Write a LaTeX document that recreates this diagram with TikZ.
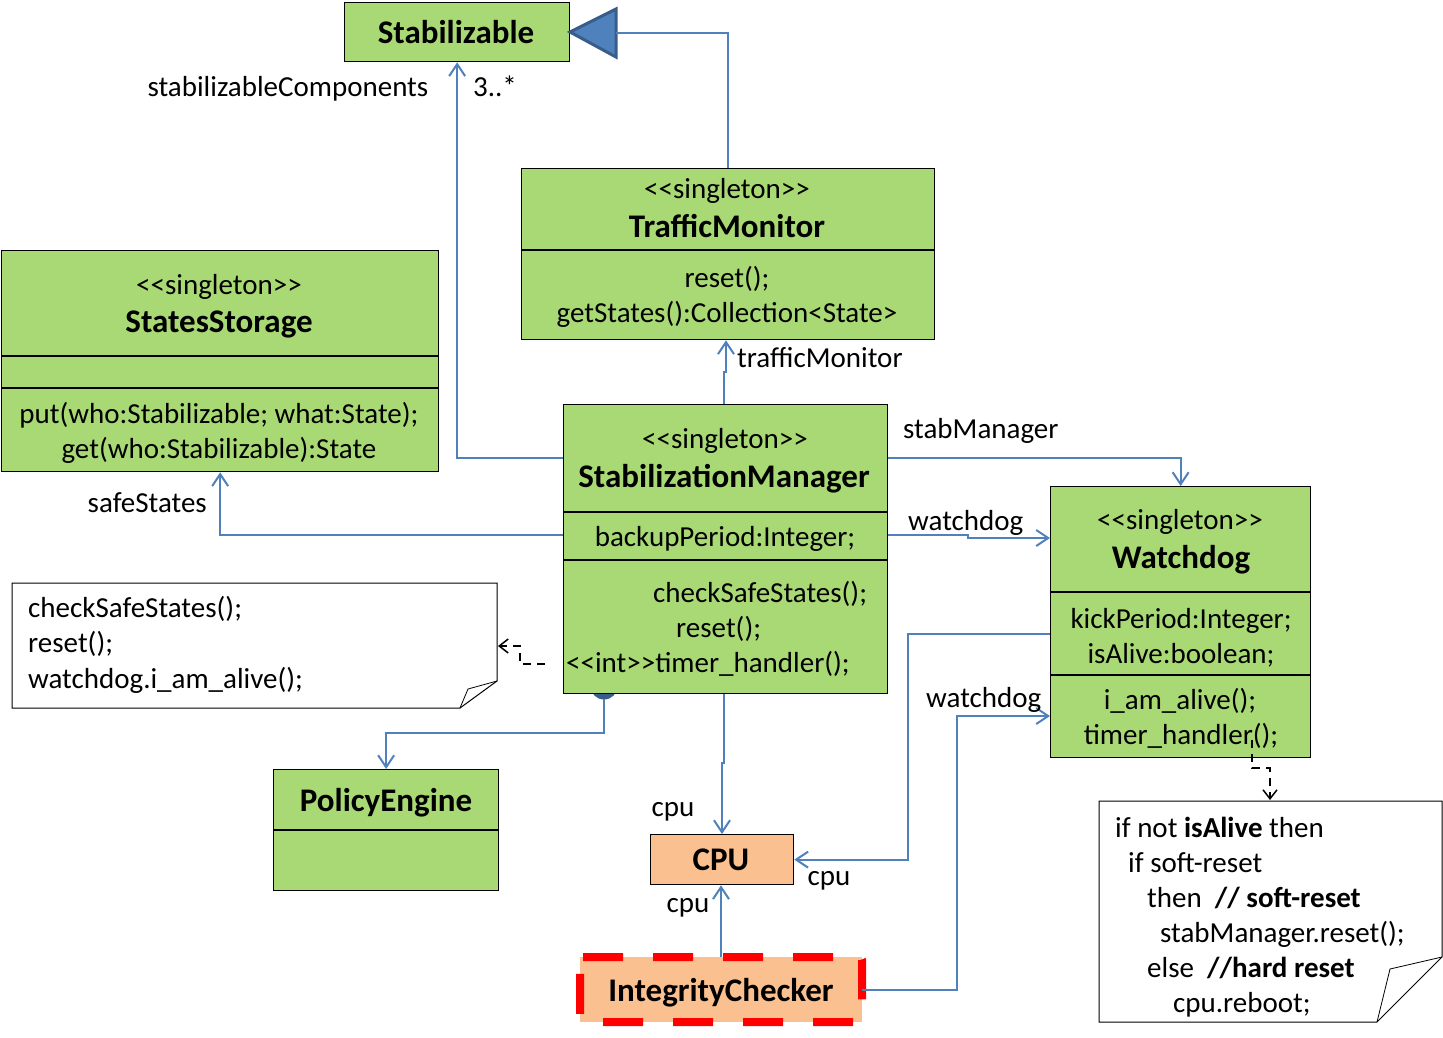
\documentclass[tikz,border=0pt]{standalone}
\usepackage{fontspec}
\setmainfont{Carlito}
\usetikzlibrary{arrows.meta}
\definecolor{umlgreen}{RGB}{169,217,117}
\definecolor{umlorange}{RGB}{250,192,144}
\definecolor{umlblue}{RGB}{79,129,189}
\definecolor{umldark}{RGB}{56,93,138}
\definecolor{icred}{RGB}{255,0,0}
\newcommand\stereo[1]{<{}<#1>{}>}
\tikzset{
  cls/.style={draw=black, line width=1.3pt, fill=umlgreen, inner sep=0pt, anchor=north west},
  tx/.style={font=\fontsize{29}{35}\selectfont, inner sep=0pt, text height=24pt, text depth=4pt},
  tb/.style={font=\fontsize{33}{40}\selectfont\bfseries, inner sep=0pt, text height=25pt, text depth=3pt},
  conn/.style={draw=umlblue, line width=2pt},
  assoc/.style={conn, -{Straight Barb[length=12pt,width=16pt]}},
  dep/.style={draw=black, line width=1.5pt, dash pattern=on 8pt off 6pt, -{Straight Barb[length=9pt,width=14pt]}},
  notebox/.style={draw=black, line width=1pt, fill=white},
  sepline/.style={draw=black, line width=1.3pt},
}
\begin{document}
\begin{tikzpicture}[x=1pt,y=-1pt]
\useasboundingbox (0,0) rectangle (1443,1037);

% ---- Stabilizable + generalization triangle
\node[cls, minimum width=225pt, minimum height=59pt] (stab) at (344,2) {};
\node[tb] (stabT) at (456,32) {Stabilizable};
\draw[fill=umlblue, draw=umldark, line width=3pt, line join=miter] (570,32) -- (616,9) -- (616,57) -- cycle;
\coordinate (tribase) at (616,33);

% ---- TrafficMonitor
\node[cls, minimum width=413pt, minimum height=171pt] (tm) at (521,168) {};
\draw[sepline] (tm.west |- 0,250) -- (tm.east |- 0,250);
\node[tx] (tmS) at (727,188) {\stereo{singleton}};
\node[tb] (tmT) at (727,226) {TrafficMonitor};
\node[tx] (tmM1) at (727,277) {reset();};
\node[tx] (tmM2) at (727,312) {getStates():Collection<State>};

% ---- StatesStorage
\node[cls, minimum width=437pt, minimum height=221pt] (ss) at (1,250) {};
\draw[sepline] (ss.west |- 0,356) -- (ss.east |- 0,356);
\draw[sepline] (ss.west |- 0,388) -- (ss.east |- 0,388);
\node[tx] (ssS) at (219,284) {\stereo{singleton}};
\node[tb] (ssT) at (219,321) {StatesStorage};
\node[tx] (ssM1) at (219,413) {put(who:Stabilizable; what:State);};
\node[tx] (ssM2) at (219,448) {get(who:Stabilizable):State};

% ---- StabilizationManager (with the small disc below)
\fill[umldark] (604,686) circle (13.5pt);
\node[cls, minimum width=324pt, minimum height=289pt] (sm) at (563,404) {};
\draw[sepline] (sm.west |- 0,512) -- (sm.east |- 0,512);
\draw[sepline] (sm.west |- 0,560) -- (sm.east |- 0,560);
\node[tx] (smS) at (725,438) {\stereo{singleton}};
\node[tb] (smT) at (724,476) {StabilizationManager};
\node[tx] (smA) at (725,536) {backupPeriod:Integer;};
\node[tx, anchor=west] (smM1) at (653,592) {checkSafeStates();};
\node[tx, anchor=west] (smM2) at (676,627) {reset();};
\node[tx, anchor=west] (smM3) at (566,662) {\stereo{int}timer\_handler();};

% ---- Watchdog
\node[cls, minimum width=260pt, minimum height=271pt] (wd) at (1050,486) {};
\draw[sepline] (wd.west |- 0,592) -- (wd.east |- 0,592);
\draw[sepline] (wd.west |- 0,675) -- (wd.east |- 0,675);
\node[tx] (wdS) at (1180,519) {\stereo{singleton}};
\node[tb] (wdT) at (1181,557) {Watchdog};
\node[tx] (wdA1) at (1181,618) {kickPeriod:Integer;};
\node[tx] (wdA2) at (1181,653) {isAlive:boolean;};
\node[tx] (wdM1) at (1180,699) {i\_am\_alive();};
\node[tx] (wdM2) at (1181,734) {timer\_handler();};

% ---- PolicyEngine
\node[cls, minimum width=225pt, minimum height=121pt] (pe) at (273,769) {};
\draw[sepline] (pe.west |- 0,830) -- (pe.east |- 0,830);
\node[tb] (peT) at (386,800) {PolicyEngine};

% ---- CPU
\node[cls, fill=umlorange, minimum width=143pt, minimum height=50pt] (cpu) at (650,834) {};
\node[tb] (cpuT) at (721,859) {CPU};

% ---- IntegrityChecker
\node[inner sep=0pt, fill=umlorange, minimum width=282pt, minimum height=65pt, anchor=north west] (ic) at (580,957) {};
\draw[icred, line width=8pt, dash pattern=on 40pt off 30pt, rounded corners=3pt]
  (580,957) -- (862,957) -- (862,1022) -- (580,1022) -- cycle;
\node[tb] (icT) at (721,990) {IntegrityChecker};

% ---- notes
\draw[notebox] (12,583) -- (497,583) -- (497,681) -- (460,708) -- (12,708) -- cycle;
\draw[line width=0.8pt] (497,681) -- (468,689) -- (460,708);
\node[tx, anchor=west] (n1a) at (28,607) {checkSafeStates();};
\node[tx, anchor=west] (n1b) at (28,642) {reset();};
\node[tx, anchor=west] (n1c) at (28,678) {watchdog.i\_am\_alive();};
\coordinate (n1) at (498,646);

\draw[notebox] (1099,801) -- (1442,801) -- (1442,957) -- (1377,1022) -- (1099,1022) -- cycle;
\draw[line width=0.8pt] (1442,957) -- (1390,969) -- (1377,1022);
\node[tx, anchor=west] (n2a) at (1115,827) {if not \textbf{isAlive} then};
\node[tx, anchor=west] (n2b) at (1128,862) {if soft-reset};
\node[tx, anchor=west] (n2c) at (1147,897) {then\ \ \textbf{// soft-reset}};
\node[tx, anchor=west] (n2d) at (1160,932) {stabManager.reset();};
\node[tx, anchor=west] (n2e) at (1147,967) {else\ \ \textbf{//hard reset}};
\node[tx, anchor=west] (n2f) at (1173,1002) {cpu.reboot;};
\coordinate (n2) at (1270,800);

% ---- connectors
\draw[conn] (tm.north) |- (tribase);
\draw[assoc] (sm.west |- 0,458) -| (stab.south);
\draw[assoc] (sm.north -| 724,0) -- (724,372) -- (726,372) -- (tm.south -| 726,0);
\draw[assoc] (sm.west |- 0,535) -| (ss.south);
\draw[assoc] (sm.east |- 0,458) -| (wd.north);
\draw[assoc] (sm.east |- 0,535) -- (968,535) -- (968,538) -- (wd.west |- 0,538);
\draw[assoc] (604,699) -- (604,733) -| (pe.north);
\draw[assoc] (sm.south -| 724,0) -- (724,763) -- (722,763) -- (cpu.north -| 722,0);
\draw[assoc] (wd.west |- 0,634) -- (908,634) |- (cpu.east);
\draw[assoc] (ic.north -| 721,0) -- (cpu.south -| 721,0);
\draw[assoc] (ic.east |- 0,990) -- (957,990) |- (wd.west |- 0,716);
\draw[dep] (545,664) -- (520,664) -- (520,646) -- (n1);
\draw[dep] (1252,740) -- (1252,768) -- (1270,768) -- (n2);

% ---- labels
\node[tx] (lSC) at (288,86) {stabilizableComponents};
\node[tx] (lMul) at (495,86) {3..*};
\node[tx, anchor=west] (lTM) at (737,357) {trafficMonitor};
\node[tx, anchor=west] (lSM) at (903,428) {stabManager};
\node[tx, anchor=west] (lWD1) at (908,520) {watchdog};
\node[tx, anchor=west] (lWD2) at (926,697) {watchdog};
\node[tx, anchor=east] (lSS) at (207,502) {safeStates};
\node[tx] (lC1) at (673,806) {cpu};
\node[tx] (lC2) at (829,875) {cpu};
\node[tx] (lC3) at (688,902) {cpu};
\end{tikzpicture}
\end{document}
